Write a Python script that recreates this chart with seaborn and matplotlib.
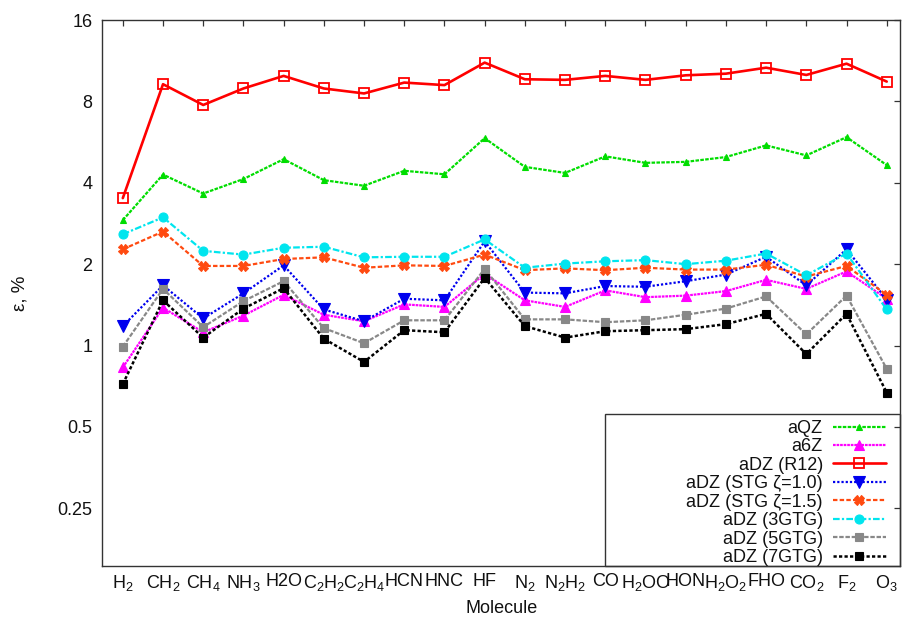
import numpy as np
import matplotlib
matplotlib.use("Agg")
import matplotlib.pyplot as plt
import seaborn as sns
from matplotlib.patches import Rectangle
from matplotlib.ticker import NullLocator, FixedLocator, FixedFormatter

# ---------------- data ----------------
molecules = [r"H$_2$", r"CH$_2$", r"CH$_4$", r"NH$_3$", "H2O", r"C$_2$H$_2$",
             r"C$_2$H$_4$", "HCN", "HNC", "HF", r"N$_2$", r"N$_2$H$_2$", "CO",
             r"H$_2$OO", "HON", r"H$_2$O$_2$", "FHO", r"CO$_2$", r"F$_2$", r"O$_3$"]

aQZ = [2.91, 4.29, 3.65, 4.13, 4.89, 4.09, 3.90, 4.43, 4.30, 5.85,
       4.58, 4.35, 5.01, 4.74, 4.78, 4.98, 5.50, 5.05, 5.90, 4.65]
a6Z = [0.83, 1.38, 1.12, 1.29, 1.54, 1.30, 1.23, 1.42, 1.39, 1.84,
       1.47, 1.39, 1.60, 1.51, 1.53, 1.59, 1.75, 1.62, 1.88, 1.49]
aDZ_R12 = [3.51, 9.26, 7.76, 8.93, 9.94, 8.93, 8.56, 9.39, 9.19, 11.13,
           9.66, 9.61, 9.94, 9.61, 9.99, 10.13, 10.66, 10.02, 11.03, 9.47]
aDZ_STG10 = [1.18, 1.67, 1.26, 1.56, 1.98, 1.36, 1.23, 1.49, 1.47, 2.43,
             1.57, 1.56, 1.66, 1.65, 1.73, 1.83, 2.13, 1.67, 2.27, 1.48]
aDZ_STG15 = [2.27, 2.64, 1.97, 1.97, 2.09, 2.12, 1.94, 1.98, 1.97, 2.17,
             1.90, 1.93, 1.90, 1.94, 1.91, 1.91, 1.99, 1.80, 1.97, 1.54]
aDZ_3GTG = [2.58, 2.98, 2.24, 2.17, 2.30, 2.32, 2.12, 2.13, 2.13, 2.47,
            1.94, 2.01, 2.05, 2.07, 2.00, 2.06, 2.19, 1.82, 2.19, 1.36]
aDZ_5GTG = [0.99, 1.62, 1.17, 1.46, 1.73, 1.16, 1.02, 1.24, 1.24, 1.92,
            1.25, 1.25, 1.22, 1.24, 1.30, 1.37, 1.52, 1.10, 1.53, 0.82]
aDZ_7GTG = [0.72, 1.47, 1.07, 1.37, 1.63, 1.06, 0.87, 1.14, 1.12, 1.78,
            1.18, 1.07, 1.13, 1.14, 1.15, 1.20, 1.31, 0.93, 1.31, 0.67]

series_labels = ["aQZ", "a6Z", "aDZ (R12)", "aDZ (STG ζ=1.0)", "aDZ (STG ζ=1.5)",
                 "aDZ (3GTG)", "aDZ (5GTG)", "aDZ (7GTG)"]
series_values = [aQZ, a6Z, aDZ_R12, aDZ_STG10, aDZ_STG15, aDZ_3GTG, aDZ_5GTG, aDZ_7GTG]

y_ticks = [0.25, 0.5, 1, 2, 4, 8, 16]
y_tick_labels = ["0.25", "0.5", "1", "2", "4", "8", "16"]

# ---------------- styles ----------------
styles = [
    dict(color="#00dd00", marker="^", ms=4.5, ls=(0, (1.6, 0.6)), lw=1.6, mfc=None),
    dict(color="#ff00ff", marker="^", ms=7, ls=(0, (1.2, 0.4)), lw=1.6, mfc=None),
    dict(color="#ff0000", marker="s", ms=6.5, ls="-", lw=1.9, mfc="none"),
    dict(color="#0000ee", marker="v", ms=8, ls=(0, (1.0, 0.9)), lw=1.6, mfc=None),
    dict(color="#ff4a10", marker="X", ms=7, ls=(0, (2.0, 1.0)), lw=1.6, mfc=None),
    dict(color="#00e5ee", marker="o", ms=6.5, ls=(0, (3.0, 1.0, 1.0, 1.0)), lw=1.6, mfc=None),
    dict(color="#888888", marker="s", ms=5.5, ls=(0, (2.0, 0.8)), lw=1.6, mfc=None),
    dict(color="#000000", marker="s", ms=5.5, ls=(0, (1.3, 0.9)), lw=1.8, mfc=None),
]

sns.set_theme(style="white")
plt.rcParams["font.family"] = ["Liberation Sans", "DejaVu Sans"]
plt.rcParams["mathtext.fontset"] = "custom"
plt.rcParams["mathtext.rm"] = "Liberation Sans"
plt.rcParams["mathtext.it"] = "Liberation Sans:italic"
plt.rcParams["mathtext.default"] = "regular"

W, H = 902, 621
fig = plt.figure(figsize=(W / 100, H / 100), dpi=100)
left_px, right_px, top_px, bot_px = 102.3, 900.0, 20.0, 566.0
ax = fig.add_axes([left_px / W, 1 - bot_px / H, (right_px - left_px) / W, (bot_px - top_px) / H])

x = np.arange(len(molecules))
for lab, vals, st in zip(series_labels, series_values, styles):
    kw = dict(markeredgecolor=st["color"], markeredgewidth=1.3 if st["mfc"] == "none" else 0.8)
    if st["mfc"] is not None:
        kw["markerfacecolor"] = st["mfc"]
    sns.lineplot(x=x, y=vals, ax=ax, color=st["color"], marker=st["marker"],
                 markersize=st["ms"], linestyle=st["ls"], linewidth=st["lw"],
                 label=lab, legend=False, **kw)

ax.set_yscale("log", base=2)
ax.set_ylim(0.153, 16)
ax.set_xlim(-0.51, 19.33)
ax.yaxis.set_major_locator(FixedLocator(y_ticks))
ax.yaxis.set_major_formatter(FixedFormatter(y_tick_labels))
ax.yaxis.set_minor_locator(NullLocator())
ax.set_xticks(x)
ax.set_xticklabels(molecules)

ax.tick_params(axis="both", which="major", direction="in", length=4, width=0.9,
               color="#333333", top=True, right=True, labelsize=13, labelcolor="#111111")
ax.tick_params(axis="x", pad=5)
ax.tick_params(axis="y", pad=7)
for sp in ax.spines.values():
    sp.set_color("#333333")
    sp.set_linewidth(1.0)

ax.set_xlabel("Molecule", fontsize=13, color="#111111")
ax.set_ylabel("ε, %", fontsize=13.5, color="#111111")
ax.xaxis.set_label_coords(0.5, -0.062)
ax.yaxis.set_label_coords(-0.093, 0.5)

# legend (markerfirst=False right-aligns the label/handle rows)
handles, labels = ax.get_legend_handles_labels()
leg = ax.legend(handles, labels, loc="lower right",
                bbox_to_anchor=(886 / W, 1 - 566 / H), bbox_transform=fig.transFigure,
                frameon=False, markerfirst=False, handlelength=2.95, handletextpad=0.55,
                labelspacing=0.08, borderpad=0, borderaxespad=0, fontsize=13)
for t in leg.get_texts():
    t.set_color("#111111")

ax.add_patch(Rectangle(((604.7 - left_px) / (right_px - left_px), 0),
                       1 - (604.7 - left_px) / (right_px - left_px),
                       (bot_px - 414) / (bot_px - top_px),
                       transform=ax.transAxes, fill=False, ec="#333333", lw=1.0,
                       clip_on=False, zorder=5))

fig.savefig("out.png", dpi=100)
